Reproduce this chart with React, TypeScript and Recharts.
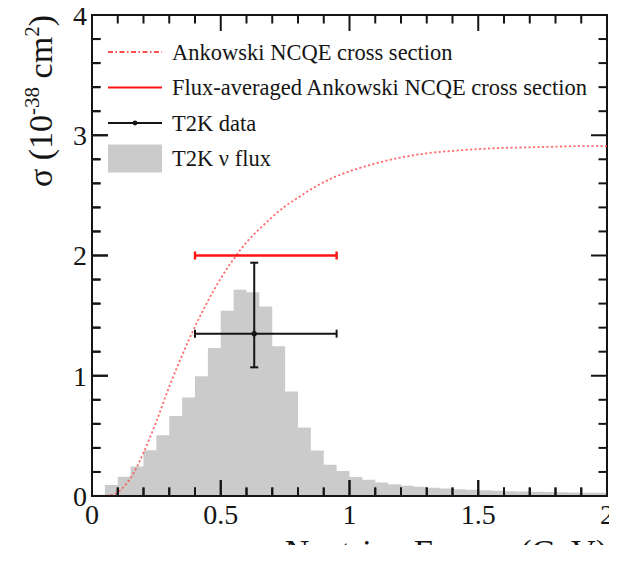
import React from 'react';
import {
  ComposedChart,
  Area,
  Line,
  Scatter,
  ErrorBar,
  XAxis,
  YAxis,
  Legend,
  ReferenceArea,
  ReferenceLine,
} from 'recharts';

// ---- data -------------------------------------------------------------

// T2K neutrino flux histogram: lower bin edges (GeV) and bin contents
const FLUX_BIN_WIDTH = 0.05;
const FLUX_BIN_EDGES = [
  0.0, 0.05, 0.1, 0.15, 0.2, 0.25, 0.3, 0.35, 0.4, 0.45,
  0.5, 0.55, 0.6, 0.65, 0.7, 0.75, 0.8, 0.85, 0.9, 0.95,
  1.0, 1.05, 1.1, 1.15, 1.2, 1.25, 1.3, 1.35, 1.4, 1.45,
  1.5, 1.55, 1.6, 1.65, 1.7, 1.75, 1.8, 1.85, 1.9, 1.95,
];
const FLUX_VALUES = [
  0.01, 0.092, 0.16, 0.246, 0.38, 0.505, 0.665, 0.82, 0.995, 1.23,
  1.54, 1.715, 1.695, 1.575, 1.245, 0.87, 0.57, 0.378, 0.26, 0.208,
  0.158, 0.135, 0.113, 0.098, 0.085, 0.077, 0.068, 0.063, 0.056, 0.051,
  0.047, 0.043, 0.04, 0.037, 0.035, 0.033, 0.031, 0.03, 0.028, 0.027,
];

// Ankowski NCQE cross section (10^-38 cm^2) vs neutrino energy (GeV)
const XS_ENERGY = [
  0.02, 0.05, 0.075, 0.1, 0.125, 0.15, 0.175, 0.2, 0.25, 0.3,
  0.35, 0.4, 0.45, 0.5, 0.55, 0.6, 0.65, 0.7, 0.75, 0.8,
  0.85, 0.9, 0.95, 1.0, 1.1, 1.2, 1.3, 1.4, 1.5, 1.6,
  1.7, 1.8, 1.9, 2.0,
];
const XS_VALUES = [
  0.0, 0.002, 0.009, 0.03, 0.08, 0.15, 0.245, 0.36, 0.62, 0.91,
  1.17, 1.41, 1.62, 1.81, 1.97, 2.11, 2.22, 2.32, 2.41, 2.48,
  2.55, 2.61, 2.66, 2.7, 2.765, 2.815, 2.85, 2.87, 2.885, 2.895,
  2.9, 2.905, 2.91, 2.91,
];

// Flux-averaged measurement and prediction over the same energy window
const T2K_POINT = { energy: 0.63, sigma: 1.35, sigmaLow: 1.07, sigmaHigh: 1.94, energyLow: 0.4, energyHigh: 0.95 };
const FLUX_AVERAGED = { energy: 0.63, sigma: 2.0, energyLow: 0.4, energyHigh: 0.95 };

// axis ranges and frame ticks (value labels on the major ones)
const X_DOMAIN = [0, 2];
const Y_DOMAIN = [0, 4];
const X_TICKS = [
  0, 0.1, 0.2, 0.3, 0.4, 0.5, 0.6, 0.7, 0.8, 0.9, 1,
  1.1, 1.2, 1.3, 1.4, 1.5, 1.6, 1.7, 1.8, 1.9, 2,
];
const Y_TICKS = [
  0, 0.2, 0.4, 0.6, 0.8, 1, 1.2, 1.4, 1.6, 1.8, 2,
  2.2, 2.4, 2.6, 2.8, 3, 3.2, 3.4, 3.6, 3.8, 4,
];
const X_MAJOR_STEP = 0.5;
const Y_MAJOR_STEP = 1;

const LEGEND_ITEMS = [
  { kind: 'dashdot', label: 'Ankowski NCQE cross section' },
  { kind: 'solid', label: 'Flux-averaged Ankowski NCQE cross section' },
  { kind: 'data', label: 'T2K data' },
  { kind: 'box', label: 'T2K \u03bd flux' },
];

// ---- derived series ---------------------------------------------------

const fluxSteps = [
  ...FLUX_BIN_EDGES.map((e, i) => ({ energy: e, flux: FLUX_VALUES[i] })),
  {
    energy: FLUX_BIN_EDGES[FLUX_BIN_EDGES.length - 1] + FLUX_BIN_WIDTH,
    flux: FLUX_VALUES[FLUX_VALUES.length - 1],
  },
];

const xsCurve = XS_ENERGY.map((e, i) => ({ energy: e, sigma: XS_VALUES[i] }));

const dataPoints = [
  {
    energy: T2K_POINT.energy,
    sigma: T2K_POINT.sigma,
    eErr: [T2K_POINT.energy - T2K_POINT.energyLow, T2K_POINT.energyHigh - T2K_POINT.energy],
    sErr: [T2K_POINT.sigma - T2K_POINT.sigmaLow, T2K_POINT.sigmaHigh - T2K_POINT.sigma],
  },
];

const fluxAveragedPoints = [
  {
    energy: FLUX_AVERAGED.energy,
    sigma: FLUX_AVERAGED.sigma,
    eErr: [FLUX_AVERAGED.energy - FLUX_AVERAGED.energyLow, FLUX_AVERAGED.energyHigh - FLUX_AVERAGED.energy],
  },
];

// ---- layout & styling -------------------------------------------------

const CHART_W = 617;
const CHART_H = 561;
const MARGIN = { top: 15, right: 10, bottom: 25, left: 0 };
const X_AXIS_H = 40;
const Y_AXIS_W = 92;
const PLOT_W = CHART_W - MARGIN.left - MARGIN.right - Y_AXIS_W;
const PLOT_H = CHART_H - MARGIN.top - MARGIN.bottom - X_AXIS_H;

const SERIF = '"Liberation Serif", "Times New Roman", Times, serif';
const INK = '#151515';
const RED = '#ff1414';
const CURVE_RED = '#ff4a4a';
const FLUX_GRAY = '#cbcbcb';
const MAJOR_TICK = 16;
const MINOR_TICK = 8.5;
const TICK_FONT_SIZE = 28;

const isMajor = (v: number, step: number) => {
  const r = v / step;
  return Math.abs(r - Math.round(r)) < 1e-6;
};

// inward tick segments along the bottom and left edges, in axis units
const Y_PER_PX = (Y_DOMAIN[1] - Y_DOMAIN[0]) / PLOT_H;
const X_PER_PX = (X_DOMAIN[1] - X_DOMAIN[0]) / PLOT_W;
const bottomTickSegments = X_TICKS.map((v) => [
  { x: v, y: Y_DOMAIN[0] },
  { x: v, y: Y_DOMAIN[0] + (isMajor(v, X_MAJOR_STEP) ? MAJOR_TICK : MINOR_TICK) * Y_PER_PX },
]);
const leftTickSegments = Y_TICKS.map((v) => [
  { x: X_DOMAIN[0], y: v },
  { x: X_DOMAIN[0] + (isMajor(v, Y_MAJOR_STEP) ? MAJOR_TICK : MINOR_TICK) * X_PER_PX, y: v },
]);

// Inward ticks on the opposite edges of the frame, plus value labels on majors.
const FrameTick = (props: any) => {
  const { x, y, payload, side, majorStep } = props;
  if (x == null || y == null || !payload) return <g />;
  const v = Number(payload.value);
  const major = isMajor(v, majorStep);
  const len = major ? MAJOR_TICK : MINOR_TICK;
  if (side === 'bottom') {
    const top = y - PLOT_H;
    return (
      <g>
        <line x1={x} y1={y} x2={x} y2={y - len} stroke={INK} strokeWidth={2} />
        <line x1={x} y1={top} x2={x} y2={top + len} stroke={INK} strokeWidth={2} />
        {major ? (
          <text x={x} y={y + 8} dy="0.71em" textAnchor="middle" fontFamily={SERIF} fontSize={TICK_FONT_SIZE} fill={INK}>
            {String(v)}
          </text>
        ) : null}
      </g>
    );
  }
  const right = x + PLOT_W;
  return (
    <g>
      <line x1={x} y1={y} x2={x + len} y2={y} stroke={INK} strokeWidth={2} />
      <line x1={right} y1={y} x2={right - len} y2={y} stroke={INK} strokeWidth={2} />
      {major ? (
        <text x={x - 5} y={y} dy="0.35em" textAnchor="end" fontFamily={SERIF} fontSize={TICK_FONT_SIZE} fill={INK}>
          {String(v)}
        </text>
      ) : null}
    </g>
  );
};

const XTitle = (props: any) => {
  const vb = props.viewBox || { x: Y_AXIS_W, y: MARGIN.top + PLOT_H, width: PLOT_W };
  return (
    <text x={vb.x + vb.width} y={563} textAnchor="end" fontFamily={SERIF} fontSize={34} fill={INK}>
      Neutrino Energy (GeV)
    </text>
  );
};

const YTitle = () => {
  const bx = 52;
  const by = MARGIN.top;
  return (
    <text
      x={bx}
      y={by}
      transform={`rotate(-90, ${bx}, ${by})`}
      textAnchor="end"
      fontFamily={SERIF}
      fontSize={34}
      fill={INK}
    >
      <tspan>{'\u03c3 (10'}</tspan>
      <tspan dy={-13} fontSize={21}>-38</tspan>
      <tspan dy={13}>{' cm'}</tspan>
      <tspan dy={-13} fontSize={21}>2</tspan>
      <tspan dy={13}>)</tspan>
    </text>
  );
};

const LegendIcon = ({ kind, cy }: { kind: string; cy: number }) => {
  if (kind === 'dashdot') {
    return (
      <line x1={0} x2={54} y1={cy} y2={cy} stroke={RED} strokeWidth={1.6} strokeDasharray="5 2.5 1.5 2.5" />
    );
  }
  if (kind === 'solid') {
    return <line x1={0} x2={54} y1={cy} y2={cy} stroke={RED} strokeWidth={2.2} />;
  }
  if (kind === 'data') {
    return (
      <g>
        <line x1={0} x2={54} y1={cy} y2={cy} stroke={INK} strokeWidth={2} />
        <circle cx={27} cy={cy} r={2.4} fill={INK} />
      </g>
    );
  }
  return <rect x={0} y={cy - 14} width={54} height={28} fill={FLUX_GRAY} />;
};

const renderLegend = () => (
  <svg width={480} height={140} style={{ display: 'block' }}>
    {LEGEND_ITEMS.map((item, i) => {
      const cy = 15 + i * 35.5;
      return (
        <g key={item.label}>
          <LegendIcon kind={item.kind} cy={cy} />
          <text x={64} y={cy + 7.5} fontFamily={SERIF} fontSize={22.5} fill={INK}>
            {item.label}
          </text>
        </g>
      );
    })}
  </svg>
);

const NoMarker = () => <g />;
const DataMarker = (props: any) => <circle cx={props.cx} cy={props.cy} r={2.6} fill={INK} />;

const frameLine = { stroke: INK, strokeWidth: 2 };

export default function App() {
  return (
    <div style={{ margin: '-8px 0 0 -8px', width: CHART_W, height: 545 }}>
      <ComposedChart width={CHART_W} height={CHART_H} margin={MARGIN}>
        <XAxis
          xAxisId="x"
          dataKey="energy"
          type="number"
          domain={X_DOMAIN}
          allowDataOverflow
          ticks={X_TICKS}
          interval={0}
          height={X_AXIS_H}
          tickSize={0}
          tickMargin={0}
          tickLine={false}
          axisLine={frameLine}
          tick={<FrameTick side="bottom" majorStep={X_MAJOR_STEP} />}
          label={<XTitle />}
        />
        <YAxis
          yAxisId="y"
          type="number"
          domain={Y_DOMAIN}
          allowDataOverflow
          ticks={Y_TICKS}
          interval={0}
          width={Y_AXIS_W}
          tickSize={0}
          tickMargin={0}
          tickLine={false}
          axisLine={frameLine}
          tick={<FrameTick side="left" majorStep={Y_MAJOR_STEP} />}
          label={<YTitle />}
        />

        <Area
          xAxisId="x"
          yAxisId="y"
          data={fluxSteps}
          dataKey="flux"
          type="stepAfter"
          fill={FLUX_GRAY}
          fillOpacity={1}
          stroke="none"
          isAnimationActive={false}
        />
        <Line
          xAxisId="x"
          yAxisId="y"
          data={xsCurve}
          dataKey="sigma"
          type="monotone"
          stroke={CURVE_RED}
          strokeWidth={1.8}
          strokeDasharray="2.2 2.3"
          strokeOpacity={0.8}
          dot={false}
          activeDot={false}
          isAnimationActive={false}
        />
        <Scatter
          xAxisId="x"
          yAxisId="y"
          data={fluxAveragedPoints}
          dataKey="sigma"
          shape={<NoMarker />}
          isAnimationActive={false}
        >
          <ErrorBar dataKey="eErr" direction="x" width={4} stroke={RED} strokeWidth={2.4} isAnimationActive={false} />
        </Scatter>
        <Scatter
          xAxisId="x"
          yAxisId="y"
          data={dataPoints}
          dataKey="sigma"
          shape={<DataMarker />}
          isAnimationActive={false}
        >
          <ErrorBar dataKey="eErr" direction="x" width={4} stroke={INK} strokeWidth={2} isAnimationActive={false} />
          <ErrorBar dataKey="sErr" direction="y" width={4} stroke={INK} strokeWidth={2} isAnimationActive={false} />
        </Scatter>

        {/* inward ticks along the bottom and left edges */}
        {bottomTickSegments.map((seg, i) => (
          <ReferenceLine
            key={`bt-${i}`}
            xAxisId="x"
            yAxisId="y"
            segment={seg}
            stroke={INK}
            strokeWidth={2}
            ifOverflow="visible"
          />
        ))}
        {leftTickSegments.map((seg, i) => (
          <ReferenceLine
            key={`lt-${i}`}
            xAxisId="x"
            yAxisId="y"
            segment={seg}
            stroke={INK}
            strokeWidth={2}
            ifOverflow="visible"
          />
        ))}

        {/* closed frame around the plot area */}
        <ReferenceArea
          xAxisId="x"
          yAxisId="y"
          x1={X_DOMAIN[0]}
          x2={X_DOMAIN[1]}
          y1={Y_DOMAIN[0]}
          y2={Y_DOMAIN[1]}
          fill="none"
          fillOpacity={0}
          stroke={INK}
          strokeWidth={2}
          ifOverflow="visible"
        />

        <Legend
          layout="vertical"
          align="center"
          verticalAlign="middle"
          content={renderLegend}
          wrapperStyle={{ left: 108, top: 37, width: 480, height: 140 }}
        />
      </ComposedChart>
    </div>
  );
}
